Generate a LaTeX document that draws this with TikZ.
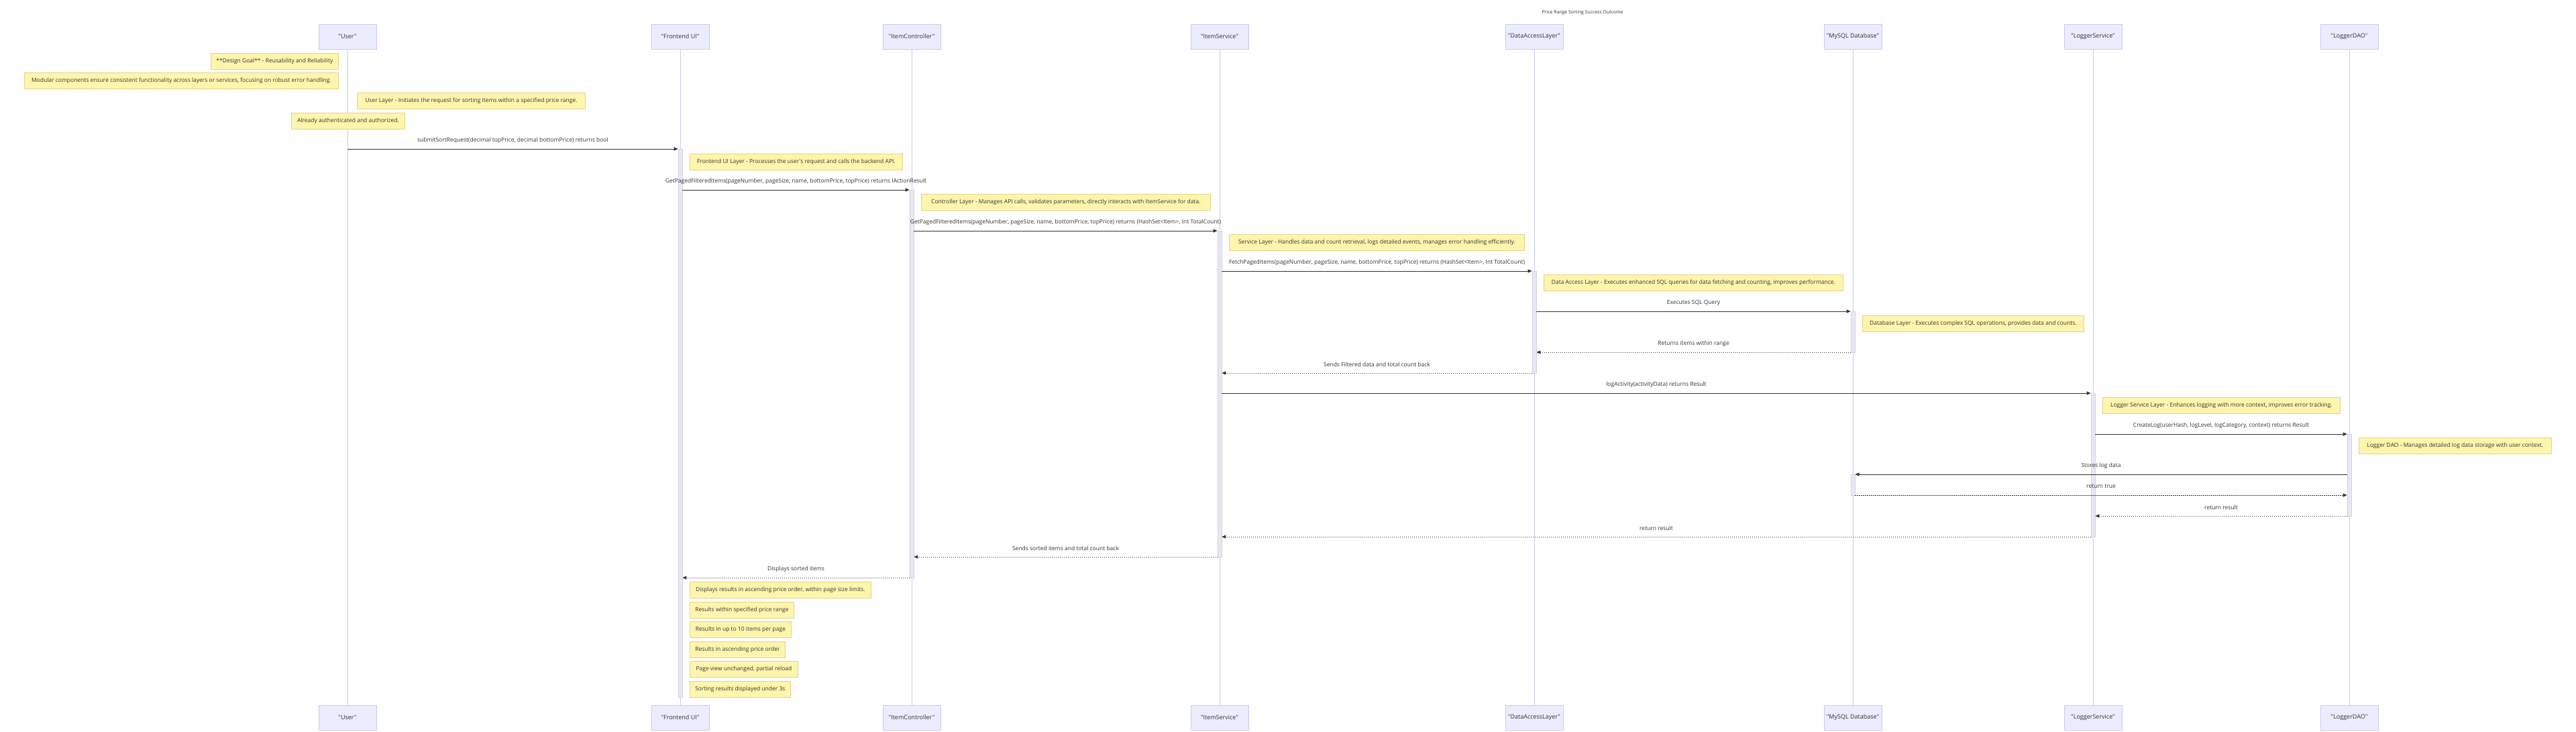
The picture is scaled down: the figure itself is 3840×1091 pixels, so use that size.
\documentclass[tikz,border=0pt]{standalone}
\usepackage{fontspec}
\newfontfamily\osans{Open Sans}
\usetikzlibrary{arrows.meta}
\definecolor{actorfill}{HTML}{ECECFF}
\definecolor{actorstroke}{HTML}{C9C9F2}
\definecolor{lifecol}{HTML}{C9C9F2}
\definecolor{notefill}{HTML}{FFF5AD}
\definecolor{notestroke}{HTML}{E3D48A}
\definecolor{actfill}{HTML}{E8E8F2}
\definecolor{actstroke}{HTML}{D2D2E6}
\definecolor{txtgray}{HTML}{333333}
\definecolor{arrowgray}{HTML}{333333}
\tikzset{
  actorbox/.style={draw=actorstroke, fill=actorfill, line width=0.9pt, minimum width=86pt, minimum height=37pt, inner sep=0pt, text=txtgray, font=\osans\fontsize{9}{11}\selectfont},
  notebox/.style={draw=notestroke, fill=notefill, line width=0.8pt, inner sep=0pt, anchor=north west, minimum height=24pt, text=txtgray, font=\osans\fontsize{8.5}{10}\selectfont},
  msglabel/.style={inner sep=0pt, text=txtgray, font=\osans\fontsize{8.5}{10}\selectfont},
  titletext/.style={inner sep=0pt, text=txtgray, font=\osans\fontsize{6.9}{8}\selectfont},
  lifeline/.style={draw=lifecol, line width=0.9pt},
  actbox/.style={draw=actstroke, fill=actfill, line width=0.6pt, minimum width=6pt, inner sep=0pt, anchor=north},
  solidmsg/.style={draw=arrowgray, line width=0.9pt, -{Triangle[length=6pt,width=5pt]}},
  dottedmsg/.style={solidmsg, dash pattern=on 1.2pt off 1.8pt},
}
\begin{document}
\begin{tikzpicture}[x=1pt,y=-1pt]
\useasboundingbox[fill=white] (0,0) rectangle (3840,1091);

\node[titletext] (title) at (2359,19) {Price Range Sorting Success Outcome};

% actors top
\node[actorbox] (uT) at (518,54.5) {"User"};
\node[actorbox] (fT) at (1014,54.5) {"Frontend UI"};
\node[actorbox] (cT) at (1359,54.5) {"ItemController"};
\node[actorbox] (sT) at (1818,54.5) {"ItemService"};
\node[actorbox] (dT) at (2287,54.5) {"DataAccessLayer"};
\node[actorbox] (mT) at (2762,54.5) {"MySQL Database"};
\node[actorbox] (lT) at (3120,54.5) {"LoggerService"};
\node[actorbox] (oT) at (3502,54.5) {"LoggerDAO"};
% actors bottom
\node[actorbox] (uB) at (518,1069.5) {"User"};
\node[actorbox] (fB) at (1014,1069.5) {"Frontend UI"};
\node[actorbox] (cB) at (1359,1069.5) {"ItemController"};
\node[actorbox] (sB) at (1818,1069.5) {"ItemService"};
\node[actorbox] (dB) at (2287,1069.5) {"DataAccessLayer"};
\node[actorbox] (mB) at (2762,1069.5) {"MySQL Database"};
\node[actorbox] (lB) at (3120,1069.5) {"LoggerService"};
\node[actorbox] (oB) at (3502,1069.5) {"LoggerDAO"};

% lifelines
\foreach \a in {u,f,c,s,d,m,l,o}{
  \draw[lifeline] (\a T.south) -- (\a B.north);
}

% activations
\node[actbox, minimum height=817pt] (aF) at (1014,222) {};
\node[actbox, minimum height=578pt] (aC) at (1359,283) {};
\node[actbox, minimum height=486pt] (aS) at (1818,344) {};
\node[actbox, minimum height=152pt] (aD) at (2287,404) {};
\node[actbox, minimum height=61pt] (aM1) at (2762,464) {};
\node[actbox, minimum height=31pt] (aM2) at (2762,707) {};
\node[actbox, minimum height=214pt] (aL) at (3120,586) {};
\node[actbox, minimum height=122pt] (aO) at (3502,647) {};

% notes
\node[notebox, minimum width=190pt] (n1) at (314,79) {**Design Goal** - Reusability and Reliability};
\node[notebox, minimum width=468pt] (n2) at (36,108) {Modular components ensure consistent functionality across layers or services, focusing on robust error handling.};
\node[notebox, minimum width=340pt] (n3) at (532,138) {User Layer - Initiates the request for sorting items within a specified price range.};
\node[notebox, minimum width=169pt] (n4) at (434,168) {Already authenticated and authorized.};
\node[notebox, minimum width=317pt] (n5) at (1028,229) {Frontend UI Layer - Processes the user's request and calls the backend API.};
\node[notebox, minimum width=431pt] (n6) at (1373,289) {Controller Layer - Manages API calls, validates parameters, directly interacts with ItemService for data.};
\node[notebox, minimum width=440pt] (n7) at (1832,349) {Service Layer - Handles data and count retrieval, logs detailed events, manages error handling efficiently.};
\node[notebox, minimum width=446pt] (n8) at (2301,409) {Data Access Layer - Executes enhanced SQL queries for data fetching and counting, improves performance.};
\node[notebox, minimum width=330pt] (n9) at (2776,470) {Database Layer - Executes complex SQL operations, provides data and counts.};
\node[notebox, minimum width=354pt] (n10) at (3134,592) {Logger Service Layer - Enhances logging with more context, improves error tracking.};
\node[notebox, minimum width=287pt] (n11) at (3516,652) {Logger DAO - Manages detailed log data storage with user context.};
\node[notebox, minimum width=270pt] (n12) at (1028,867) {Displays results in ascending price order, within page size limits.};
\node[notebox, minimum width=155pt] (n13) at (1028,897) {Results within specified price range};
\node[notebox, minimum width=151pt] (n14) at (1028,926) {Results in up to 10 items per page};
\node[notebox, minimum width=142pt] (n15) at (1028,956) {Results in ascending price order};
\node[notebox, minimum width=161pt] (n16) at (1028,985) {Page view unchanged, partial reload};
\node[notebox, minimum width=150pt] (n17) at (1028,1015) {Sorting results displayed under 3s};

% messages
\draw[solidmsg] (uT.south |- 0,222) -- node[msglabel, midway, yshift=13pt] {submitSortRequest(decimal topPrice, decimal bottomPrice) returns bool} (aF.west |- 0,222);
\draw[solidmsg] (aF.east |- 0,283) -- node[msglabel, midway, yshift=13pt] {GetPagedFilteredItems(pageNumber, pageSize, name, bottomPrice, topPrice) returns IActionResult} (aC.west |- 0,283);
\draw[solidmsg] (aC.east |- 0,344) -- node[msglabel, midway, yshift=13pt] {GetPagedFilteredItems(pageNumber, pageSize, name, bottomPrice, topPrice) returns (HashSet<Item>, Int TotalCount)} (aS.west |- 0,344);
\draw[solidmsg] (aS.east |- 0,404) -- node[msglabel, midway, yshift=13pt] {FetchPagedItems(pageNumber, pageSize, name, bottomPrice, topPrice) returns (HashSet<Item>, Int TotalCount)} (aD.west |- 0,404);
\draw[solidmsg] (aD.east |- 0,464) -- node[msglabel, midway, yshift=13pt] {Executes SQL Query} (aM1.west |- 0,464);
\draw[dottedmsg] (aM1.west |- 0,525) -- node[msglabel, midway, yshift=13pt] {Returns items within range} (aD.east |- 0,525);
\draw[dottedmsg] (aD.west |- 0,556) -- node[msglabel, midway, yshift=13pt] {Sends Filtered data and total count back} (aS.east |- 0,556);
\draw[solidmsg] (aS.east |- 0,586) -- node[msglabel, midway, yshift=13pt] {logActivity(activityData) returns Result} (aL.west |- 0,586);
\draw[solidmsg] (aL.east |- 0,647) -- node[msglabel, midway, yshift=13pt] {CreateLog(userHash, logLevel, logCategory, context) returns Result} (aO.west |- 0,647);
\draw[solidmsg] (aO.west |- 0,707) -- node[msglabel, midway, yshift=13pt] {Stores log data} (aM2.east |- 0,707);
\draw[dottedmsg] (aM2.east |- 0,738) -- node[msglabel, midway, yshift=13pt] {return true} (aO.west |- 0,738);
\draw[dottedmsg] (aO.west |- 0,769) -- node[msglabel, midway, yshift=13pt] {return result} (aL.east |- 0,769);
\draw[dottedmsg] (aL.west |- 0,800) -- node[msglabel, midway, yshift=13pt] {return result} (aS.east |- 0,800);
\draw[dottedmsg] (aS.west |- 0,830) -- node[msglabel, midway, yshift=13pt] {Sends sorted items and total count back} (aC.east |- 0,830);
\draw[dottedmsg] (aC.west |- 0,861) -- node[msglabel, midway, yshift=13pt] {Displays sorted items} (aF.east |- 0,861);
\end{tikzpicture}
\end{document}
